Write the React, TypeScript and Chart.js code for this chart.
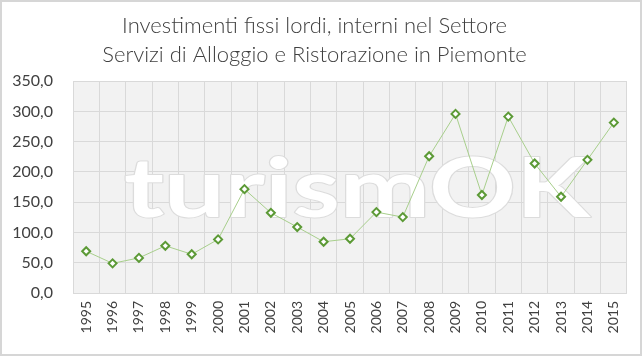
import React, { useEffect, useRef } from "react";
import { Chart, registerables } from "chart.js";

Chart.register(...registerables);

const years = ["1995","1996","1997","1998","1999","2000","2001","2002","2003","2004","2005","2006","2007","2008","2009","2010","2011","2012","2013","2014","2015"];
const investimenti = [69, 49, 58, 78, 64, 88.6, 171.6, 132.5, 109, 84.7, 89.6, 133.7, 125.4, 226, 296, 162, 291.5, 214, 159, 220, 281.6];
const titleLines = ["Investimenti fissi lordi, interni nel Settore", "Servizi di Alloggio e Ristorazione in Piemonte"];
const watermark = "turismOK";

const FONT = "Lato, 'Open Sans', sans-serif";

const bgPlugin = {
  id: "bgPlugin",
  beforeDraw(chart: any) {
    const { ctx, chartArea } = chart;
    ctx.save();
    ctx.fillStyle = "#ffffff";
    ctx.fillRect(0, 0, chart.width, chart.height);
    ctx.fillStyle = "#f2f2f2";
    ctx.fillRect(chartArea.left, chartArea.top, chartArea.right - chartArea.left, chartArea.bottom - chartArea.top);
    ctx.restore();
  },
  beforeDatasetsDraw(chart: any) {
    const { ctx } = chart;
    ctx.save();
    ctx.font = `bold 82px ${FONT}`;
    const w = ctx.measureText(watermark).width;
    const target = 466;
    ctx.translate(355, 215);
    ctx.scale(target / w, 1);
    ctx.textAlign = "center";
    ctx.textBaseline = "alphabetic";
    ctx.lineJoin = "round";
    ctx.strokeStyle = "#dcdcdc";
    ctx.lineWidth = 2;
    ctx.strokeText(watermark, 0, 0);
    ctx.fillStyle = "#ffffff";
    ctx.fillText(watermark, 0, 0);
    ctx.restore();
  },
};

export default function App() {
  const ref = useRef<HTMLCanvasElement>(null);
  useEffect(() => {
    if (!ref.current) return;
    const chart = new Chart(ref.current, {
      type: "line",
      data: {
        labels: years,
        datasets: [
          {
            data: investimenti,
            borderColor: "#a8cf8c",
            borderWidth: 1,
            pointStyle: "rectRot",
            pointRadius: 4,
            pointBorderWidth: 2,
            pointBorderColor: "#5c9a36",
            pointBackgroundColor: "#ffffff",
            tension: 0,
          },
        ],
      },
      options: {
        animation: false,
        responsive: false,
        layout: { padding: { right: 13, left: 0, top: 0, bottom: 0 } },
        plugins: {
          legend: { display: false },
          tooltip: { enabled: false },
          title: {
            display: true,
            text: titleLines,
            color: "#404040",
            font: { family: FONT, size: 22, weight: "300" as any, lineHeight: 1.3 },
            padding: { top: 10, bottom: 12 },
          },
        },
        scales: {
          x: {
            offset: true,
            grid: { color: "#d9d9d9", offset: true, drawTicks: false },
            border: { display: false },
            ticks: {
              maxRotation: 90,
              minRotation: 90,
              color: "#404040",
              font: { family: FONT, size: 14 },
              padding: 8,
              autoSkip: false,
            },
            afterFit(scale: any) { scale.height = 61; },
          },
          y: {
            min: 0,
            max: 350,
            grid: { color: "#d9d9d9", drawTicks: false },
            border: { display: false },
            ticks: {
              stepSize: 50,
              color: "#404040",
              font: { family: FONT, size: 16 },
              padding: 20,
              callback: (v: any) => Number(v).toFixed(1).replace(".", ","),
            },
            afterFit(scale: any) { scale.width = 71; },
          },
        },
      },
      plugins: [bgPlugin],
    });
    return () => chart.destroy();
  }, []);
  return (
    <div style={{ position: "fixed", left: 0, top: 0, width: 642, height: 356, boxSizing: "border-box", border: "2px solid #d6d6d6", background: "#fff" }}>
      <canvas ref={ref} width={638} height={352} style={{ display: "block", width: 638, height: 352 }} />
    </div>
  );
}
